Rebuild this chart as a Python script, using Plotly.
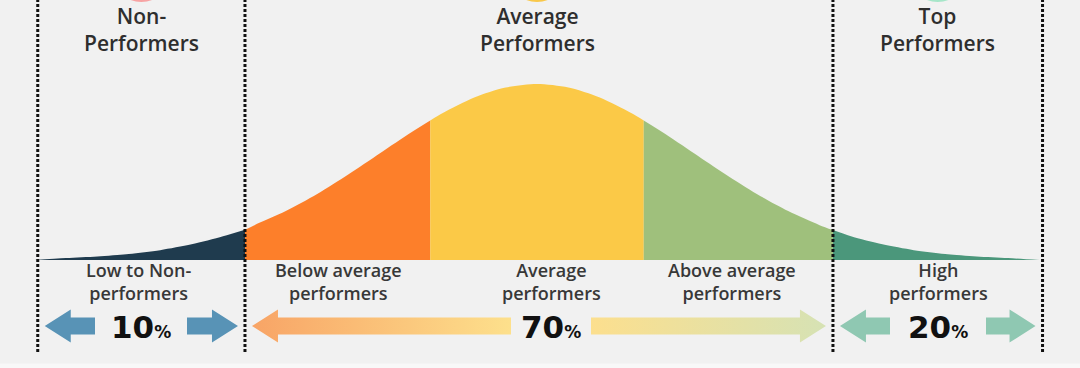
import plotly.graph_objects as go

# ---------------- data ----------------
# bell curve (x in standard deviations, height in % of peak)
curve_z = [-3.2, -3.0, -2.8, -2.6, -2.4, -2.2, -2.0, -1.86, -1.8, -1.6, -1.4, -1.2, -1.0, -0.8, -0.68,
           -0.6, -0.4, -0.2, 0.0, 0.2, 0.4, 0.6, 0.68, 0.8, 1.0, 1.2, 1.4, 1.6, 1.8, 1.885, 2.0, 2.2,
           2.4, 2.6, 2.8, 3.0, 3.2]
curve_h = [0, 1.1, 2.0, 3.4, 5.6, 8.9, 13.5, 17.2, 19.8, 27.8, 37.5, 48.7, 60.7, 72.6, 79.3,
           83.5, 92.3, 98.0, 100, 98.0, 92.3, 83.5, 79.3, 72.6, 60.7, 48.7, 37.5, 27.8, 19.8, 17.0, 13.5, 8.9,
           5.6, 3.4, 2.0, 1.1, 0]

# coloured bands under the curve
band_names = ["Low to Non-performers", "Below average performers", "Average performers",
              "Above average performers", "High performers"]
band_edges = [-3.2, -1.86, -0.68, 0.68, 1.885, 3.2]
band_labels = ["Low to Non-<br>performers", "Below average<br>performers", "Average<br>performers",
               "Above average<br>performers", "High<br>performers"]

# groups (dashed dividers, headings, shares)
group_edges = [-3.18, -1.86, 1.885, 3.22]
group_titles = ["Non-<br>Performers", "Average<br>Performers", "Top<br>Performers"]
group_share = [10, 70, 20]

# ---------------- styles / positions ----------------
band_colors = ["#1f3b4e", "#fd7f2a", "#fbc947", "#9fc07c", "#4b977b"]
circle_colors = ["#f7a3a3", "#f9c84a", "#a6e6c9"]
PX_X = 1 / 157.0   # data units per pixel (x)
PX_Y = 1 / 1.76    # data units per pixel (y)
X0_PX = 537        # pixel of z = 0
Y0_PX = 260        # pixel of baseline


def yd(py):
    return (Y0_PX - py) * PX_Y


def xd(px):
    return (px - X0_PX) * PX_X


band_label_x = [xd(138), xd(338), xd(551), xd(732), xd(938)]
share_x = [xd(141), xd(551), xd(938)]
share_gap_px = [46, 40, 48]
arrow_colors = [("#5893b6", "#5893b6", "#5893b6", "#5893b6"),
                ("#f8a466", "#fde08c", "#fcdf8e", "#d6e2b4"),
                ("#8fc8b2", "#8fc8b2", "#8fc8b2", "#8fc8b2")]

fig = go.Figure()

# bands
for i in range(len(band_names)):
    lo, hi = band_edges[i], band_edges[i + 1]
    xs = [z for z in curve_z if lo - 1e-9 <= z <= hi + 1e-9]
    ys = [h for z, h in zip(curve_z, curve_h) if lo - 1e-9 <= z <= hi + 1e-9]
    fig.add_trace(go.Scatter(x=xs, y=ys, mode="lines", fill="tozeroy",
                             line=dict(width=0, shape="spline", smoothing=0.8),
                             fillcolor=band_colors[i], name=band_names[i],
                             hoverinfo="skip", showlegend=False))


def arrow(tip, tail, direction, c0, c1):
    yc = yd(326)
    head_len = 26 * PX_X
    sh = 8.5 * PX_Y
    hh = 16.5 * PX_Y
    base = tip + direction * head_len
    xs = [tip, base, base, tail, tail, base, base, tip]
    ys = [yc, yc + hh, yc + sh, yc + sh, yc - sh, yc - sh, yc - hh, yc]
    left, right = (c0, c1) if direction > 0 else (c1, c0)
    fig.add_trace(go.Scatter(x=xs, y=ys, mode="lines", fill="toself",
                             line=dict(width=0),
                             fillgradient=dict(type="horizontal",
                                               colorscale=[[0, left], [1, right]]),
                             hoverinfo="skip", showlegend=False))


inset = 7 * PX_X
for g in range(3):
    a, b = group_edges[g], group_edges[g + 1]
    c = share_x[g]
    gap = share_gap_px[g] * PX_X
    ca, cb, cc, cd = arrow_colors[g]
    arrow(a + inset, c - gap, 1, ca, cb)
    arrow(b - inset, c + gap, -1, cd, cc)
    fig.add_annotation(x=c, y=yd(327), text=f"<b>{group_share[g]}</b><b><span style='font-size:17px'>%</span></b>",
                       showarrow=False, font=dict(family="DejaVu Sans", size=31, color="#111111"),
                       xanchor="center", yanchor="middle")
    mid = (a + b) / 2 if g != 1 else 0.0
    fig.add_annotation(x=mid, y=yd(29), text=group_titles[g], showarrow=False,
                       font=dict(family="Open Sans", size=21, color="#2e2e2e", weight=600),
                       xanchor="center", yanchor="middle")
    fig.add_shape(type="circle", x0=mid - 30 * PX_X, x1=mid + 30 * PX_X,
                  y0=yd(2), y1=yd(-58), line=dict(width=0), fillcolor=circle_colors[g])

for i in range(len(band_labels)):
    fig.add_annotation(x=band_label_x[i], y=yd(281), text=band_labels[i], showarrow=False,
                       font=dict(family="Open Sans", size=18, color="#383838", weight=600),
                       xanchor="center", yanchor="middle")

for e in group_edges:
    fig.add_shape(type="line", x0=e, x1=e, y0=yd(352), y1=yd(-2),
                  line=dict(color="#111111", width=3, dash="3px,2px"))

fig.add_shape(type="rect", xref="paper", yref="y", x0=0, x1=1, y0=yd(368), y1=yd(363.5),
              line=dict(width=0), fillcolor="#f8f8f8", layer="below")

fig.update_layout(
    width=1080, height=368,
    margin=dict(l=0, r=0, t=0, b=0),
    paper_bgcolor="#f1f1f1", plot_bgcolor="#f1f1f1",
    xaxis=dict(range=[xd(0), xd(1080)], visible=False, fixedrange=True),
    yaxis=dict(range=[yd(368), yd(0)], visible=False, fixedrange=True),
    showlegend=False,
)

fig.write_html("out.html", config={"displayModeBar": False},
               post_script="document.body.style.margin='0';document.body.style.background='#f1f1f1';")
